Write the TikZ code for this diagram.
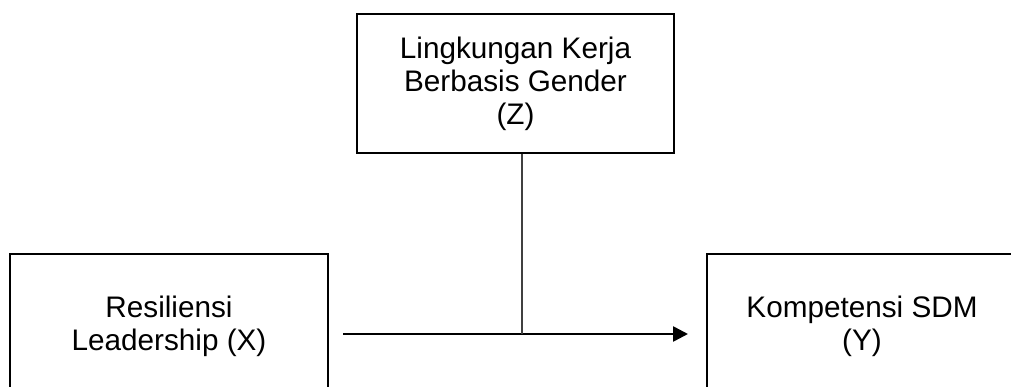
\documentclass[tikz,border=0pt]{standalone}
\usepackage{fontspec}
\setmainfont{Liberation Sans}
\usetikzlibrary{arrows.meta}
\begin{document}
\begin{tikzpicture}[x=1pt,y=-1pt,
  box/.style={draw=black, line width=2pt, inner sep=0pt, align=center,
    font=\fontsize{29.7}{33}\selectfont},
  link/.style={line width=2.6pt, -{Triangle[length=15pt,width=15pt]}},
  thin/.style={draw=black!75, line width=1.2pt}]
\useasboundingbox (0,0) rectangle (1011,387);
\begin{scope}
\clip (0,0) rectangle (1011,387);
\node[box, minimum width=317pt, minimum height=139pt] (Z) at (515.5,83.5)
  {Lingkungan Kerja\\Berbasis Gender\\(Z)};
\node[box, minimum width=318pt, minimum height=144pt] (X) at (169,326)
  {Resiliensi\\Leadership (X)};
\node[box, minimum width=310pt, minimum height=144pt] (Y) at (862,326)
  {Kompetensi SDM\\(Y)};
\coordinate (s) at ([shift={(14,8)}]X.east);
\coordinate (e) at ([shift={(-18,8)}]Y.west);
\coordinate (m) at (522,334);
\draw[link] (s) -- (e);
\draw[thin] (Z.south -| m) -- (m);
\end{scope}
\end{tikzpicture}
\end{document}
